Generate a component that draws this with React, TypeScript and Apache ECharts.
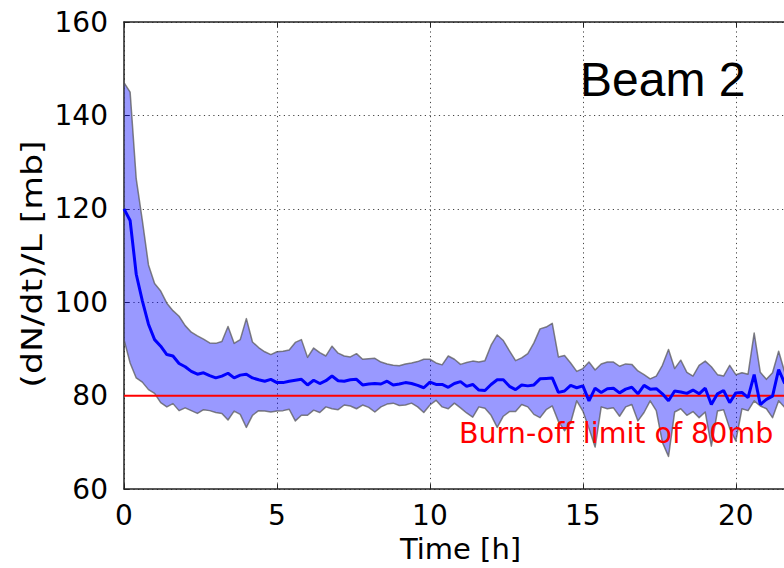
import React, { useEffect, useRef } from "react";
import * as echarts from "echarts";

const times: number[] = [
  0.0, 0.2, 0.4, 0.6, 0.8, 1.0, 1.2, 1.4, 1.6, 1.8,
  2.0, 2.2, 2.4, 2.6, 2.8, 3.0, 3.2, 3.4, 3.6, 3.8,
  4.0, 4.2, 4.4, 4.6, 4.8, 5.0, 5.2, 5.4, 5.6, 5.8,
  6.0, 6.2, 6.4, 6.6, 6.8, 7.0, 7.2, 7.4, 7.6, 7.8,
  8.0, 8.2, 8.4, 8.6, 8.8, 9.0, 9.2, 9.4, 9.6, 9.8,
  10.0, 10.2, 10.4, 10.6, 10.8, 11.0, 11.2, 11.4, 11.6, 11.8,
  12.0, 12.2, 12.4, 12.6, 12.8, 13.0, 13.2, 13.4, 13.6, 13.8,
  14.0, 14.2, 14.4, 14.6, 14.8, 15.0, 15.2, 15.4, 15.6, 15.8,
  16.0, 16.2, 16.4, 16.6, 16.8, 17.0, 17.2, 17.4, 17.6, 17.8,
  18.0, 18.2, 18.4, 18.6, 18.8, 19.0, 19.2, 19.4, 19.6, 19.8,
  20.0, 20.2, 20.4, 20.6, 20.8, 21.0, 21.2, 21.4, 21.6,
];

const meanValues: number[] = [
  120, 117.5, 106, 100.3, 95.3, 92, 90.6, 88.8, 88.5, 86.9,
  86.2, 85.2, 84.6, 84.9, 84.3, 83.8, 84.2, 84.8, 83.8, 84.4,
  84.6, 83.8, 83.4, 83.1, 83.5, 82.8, 82.8, 83.1, 83.3, 83.5,
  82.3, 83.3, 82.6, 83.2, 84.2, 83.2, 83.1, 83.4, 83.5, 82.3,
  82.5, 82.6, 82.5, 83.1, 82.3, 82.5, 82.8, 82.6, 82.2, 81.7,
  82.9, 82.4, 82.4, 81.8, 82.6, 83.0, 82.0, 82.4, 81.2, 81.1,
  82.4, 83.4, 83.4, 82.0, 81.3, 82.3, 82.1, 82.3, 83.6, 83.7,
  83.8, 80.7, 81.0, 82.2, 81.7, 82.1, 78.9, 81.6, 80.7, 81.5,
  81.6, 80.6, 81.4, 81.8, 80.4, 82.2, 81.4, 81.5, 80.4, 78.9,
  81.0, 80.8, 80.5, 81.2, 80.4, 81.6, 78.1, 80.4, 81.1, 78.5,
  80.6, 80.7, 79.6, 84.5, 78.1, 79.2, 79.9, 85.6, 82.6,
];

const upperValues: number[] = [
  147, 145, 126.4, 117.5, 108, 104, 102.4, 99.8, 98.2, 97,
  95, 93.6, 92.8, 92.1, 91.3, 91.2, 91.6, 94.8, 91.2, 92,
  96.5, 91.5, 90.3, 89.4, 88.8, 89.4, 89.5, 89.8, 91.4, 92,
  88.2, 90.2, 89.2, 88.5, 90.6, 89.1, 88.5, 88.3, 89, 87.8,
  87.9, 88, 87.2, 86.8, 86.5, 86.4, 86.8, 87, 87.3, 87.8,
  87.8, 87, 86.6, 88.5, 87.8, 86.7, 87.1, 87.4, 87.2, 87.5,
  90.8, 93, 91.8, 89.6, 87.5, 88.1, 89, 91.3, 94.3, 94.7,
  95.5, 88.3, 88.6, 87, 85.2, 85.8, 87.2, 85.5, 86.8, 87.2,
  87.2, 86.3, 86.8, 86.7, 85.3, 84.5, 83.6, 84.2, 86.5, 89.9,
  85.8, 87.6, 85, 84.2, 86.5, 87.4, 86.2, 84.5, 84.2, 86.5,
  84.5, 84.9, 84.6, 93.4, 85, 83.5, 84.9, 89.5, 85,
];

const lowerValues: number[] = [
  92, 87, 83.8, 82.9, 81.3, 80.5, 78.5, 77.6, 78.3, 76.8,
  77.4, 76.8, 76.2, 77, 76.8, 76.4, 76.2, 74.8, 76.7, 76,
  73.2, 75.8, 76.8, 76.7, 76.5, 76.7, 76.8, 77.1, 74.6, 75.8,
  75.8, 76.9, 76.4, 77.6, 77.2, 77, 78, 77.8, 77.2, 78,
  77.5, 76.5, 77.6, 78.2, 78.4, 77.9, 78, 78.4, 77.6, 76.4,
  78, 79, 77.6, 77.2, 78.4, 77.4, 76.3, 75.4, 77.6, 77.3,
  75.8, 73.2, 75.6, 76.6, 76.6, 78.1, 77.6, 76, 75.3, 77,
  77.8, 74.5, 72.5, 74.2, 78.9, 76.7, 73, 69, 77.6, 77.2,
  77.4, 75.6, 77.6, 78.1, 74.6, 76.4, 78.9, 76.8, 70, 67,
  76.5, 77.2, 75.8, 76.6, 75.3, 76.5, 69.2, 76.7, 77, 73,
  70.3, 77.2, 76.8, 78.9, 77.8, 77.2, 75.3, 78.9, 77.5,
];

const burnOffLimit = 80;
const xTicks = [0, 5, 10, 15, 20];
const yMin = 60;
const yMax = 160;
const yStep = 20;
const xMax = 22;

const FONT = "DejaVu Sans";

export default function App() {
  const ref = useRef<HTMLDivElement>(null);

  useEffect(() => {
    if (!ref.current) return;
    const chart = echarts.init(ref.current, null, { renderer: "svg" });

    const bandData = times.map((t, i) => [t, lowerValues[i], upperValues[i]]);
    const meanData = times.map((t, i) => [t, meanValues[i]]);
    const limitData = [
      [0, burnOffLimit],
      [xMax, burnOffLimit],
    ];

    const gridLine = {
      show: true,
      lineStyle: { color: "#444", width: 1, type: [1.2, 3.5] as any },
    };

    const axisLineStyle = { show: true, onZero: false, lineStyle: { color: "#222", width: 1.5 } };
    const tickStyle = { show: true, inside: true, length: 5, lineStyle: { color: "#222" } };

    chart.setOption({
      animation: false,
      backgroundColor: "#fff",
      grid: { left: 124, top: 22, bottom: 76, right: 820 - 124 - 673 },
      xAxis: [
        {
          type: "value",
          min: 0,
          max: xMax,
          interval: 5,
          name: "Time [h]",
          nameLocation: "middle",
          nameGap: 42,
          nameTextStyle: { fontFamily: FONT, fontSize: 29, color: "#000" },
          axisLine: axisLineStyle,
          axisTick: tickStyle,
          axisLabel: {
            fontFamily: FONT,
            fontSize: 28,
            color: "#000",
            margin: 12,
            formatter: (v: number) => (xTicks.includes(v) ? String(v) : ""),
          },
          splitLine: gridLine,
        },
        {
          type: "value",
          position: "top",
          min: 0,
          max: xMax,
          interval: 5,
          axisLine: axisLineStyle,
          axisTick: tickStyle,
          axisLabel: { show: false },
          splitLine: { show: false },
        },
      ],
      yAxis: {
        type: "value",
        min: yMin,
        max: yMax,
        interval: yStep,
        axisLine: axisLineStyle,
        axisTick: tickStyle,
        axisLabel: { fontFamily: FONT, fontSize: 28, color: "#000", margin: 16 },
        splitLine: gridLine,
      },
      series: [
        {
          type: "custom",
          name: "band",
          data: bandData,
          encode: { x: 0, y: [1, 2] },
          clip: true,
          z: 2,
          renderItem: (params: any, api: any) => {
            if (params.dataIndex !== 0) return null;
            const top = bandData.map((d) => api.coord([d[0], d[2]]));
            const bottom = bandData.map((d) => api.coord([d[0], d[1]])).reverse();
            return {
              type: "polygon",
              shape: { points: top.concat(bottom) },
              style: {
                fill: "rgba(0,0,255,0.4)",
                stroke: "rgba(90,90,90,0.75)",
                lineWidth: 1.5,
                lineJoin: "round",
              },
            };
          },
        },
        {
          type: "line",
          name: "limit",
          data: limitData,
          symbol: "none",
          z: 3,
          lineStyle: { color: "#ff0000", width: 2 },
        },
        {
          type: "line",
          name: "mean",
          data: meanData,
          symbol: "none",
          z: 4,
          lineStyle: { color: "#0000ff", width: 3 },
        },
      ],
      graphic: [
        {
          type: "text",
          x: 32,
          y: 264,
          rotation: Math.PI / 2,
          scaleX: 1.24,
          scaleY: 1,
          style: {
            text: "(dN/dt)/L [mb]",
            fontFamily: FONT,
            fontSize: 28,
            fill: "#000",
            align: "center",
            verticalAlign: "middle",
          },
          z: 10,
        },
        {
          type: "text",
          x: 580,
          y: 79,
          style: {
            text: "Beam 2",
            fontFamily: "Liberation Sans",
            fontSize: 48,
            fill: "#000",
            verticalAlign: "middle",
          },
          z: 10,
        },
        {
          type: "text",
          x: 459,
          y: 433,
          style: {
            text: "Burn-off limit of 80mb",
            fontFamily: FONT,
            fontSize: 28.5,
            fill: "#ff0000",
            verticalAlign: "middle",
          },
          z: 10,
        },
      ],
    });

    return () => chart.dispose();
  }, []);

  return (
    <div style={{ position: "fixed", left: 0, top: 0, width: 784, height: 568, overflow: "hidden", background: "#fff" }}>
      <div ref={ref} style={{ width: 820, height: 568 }} />
    </div>
  );
}
